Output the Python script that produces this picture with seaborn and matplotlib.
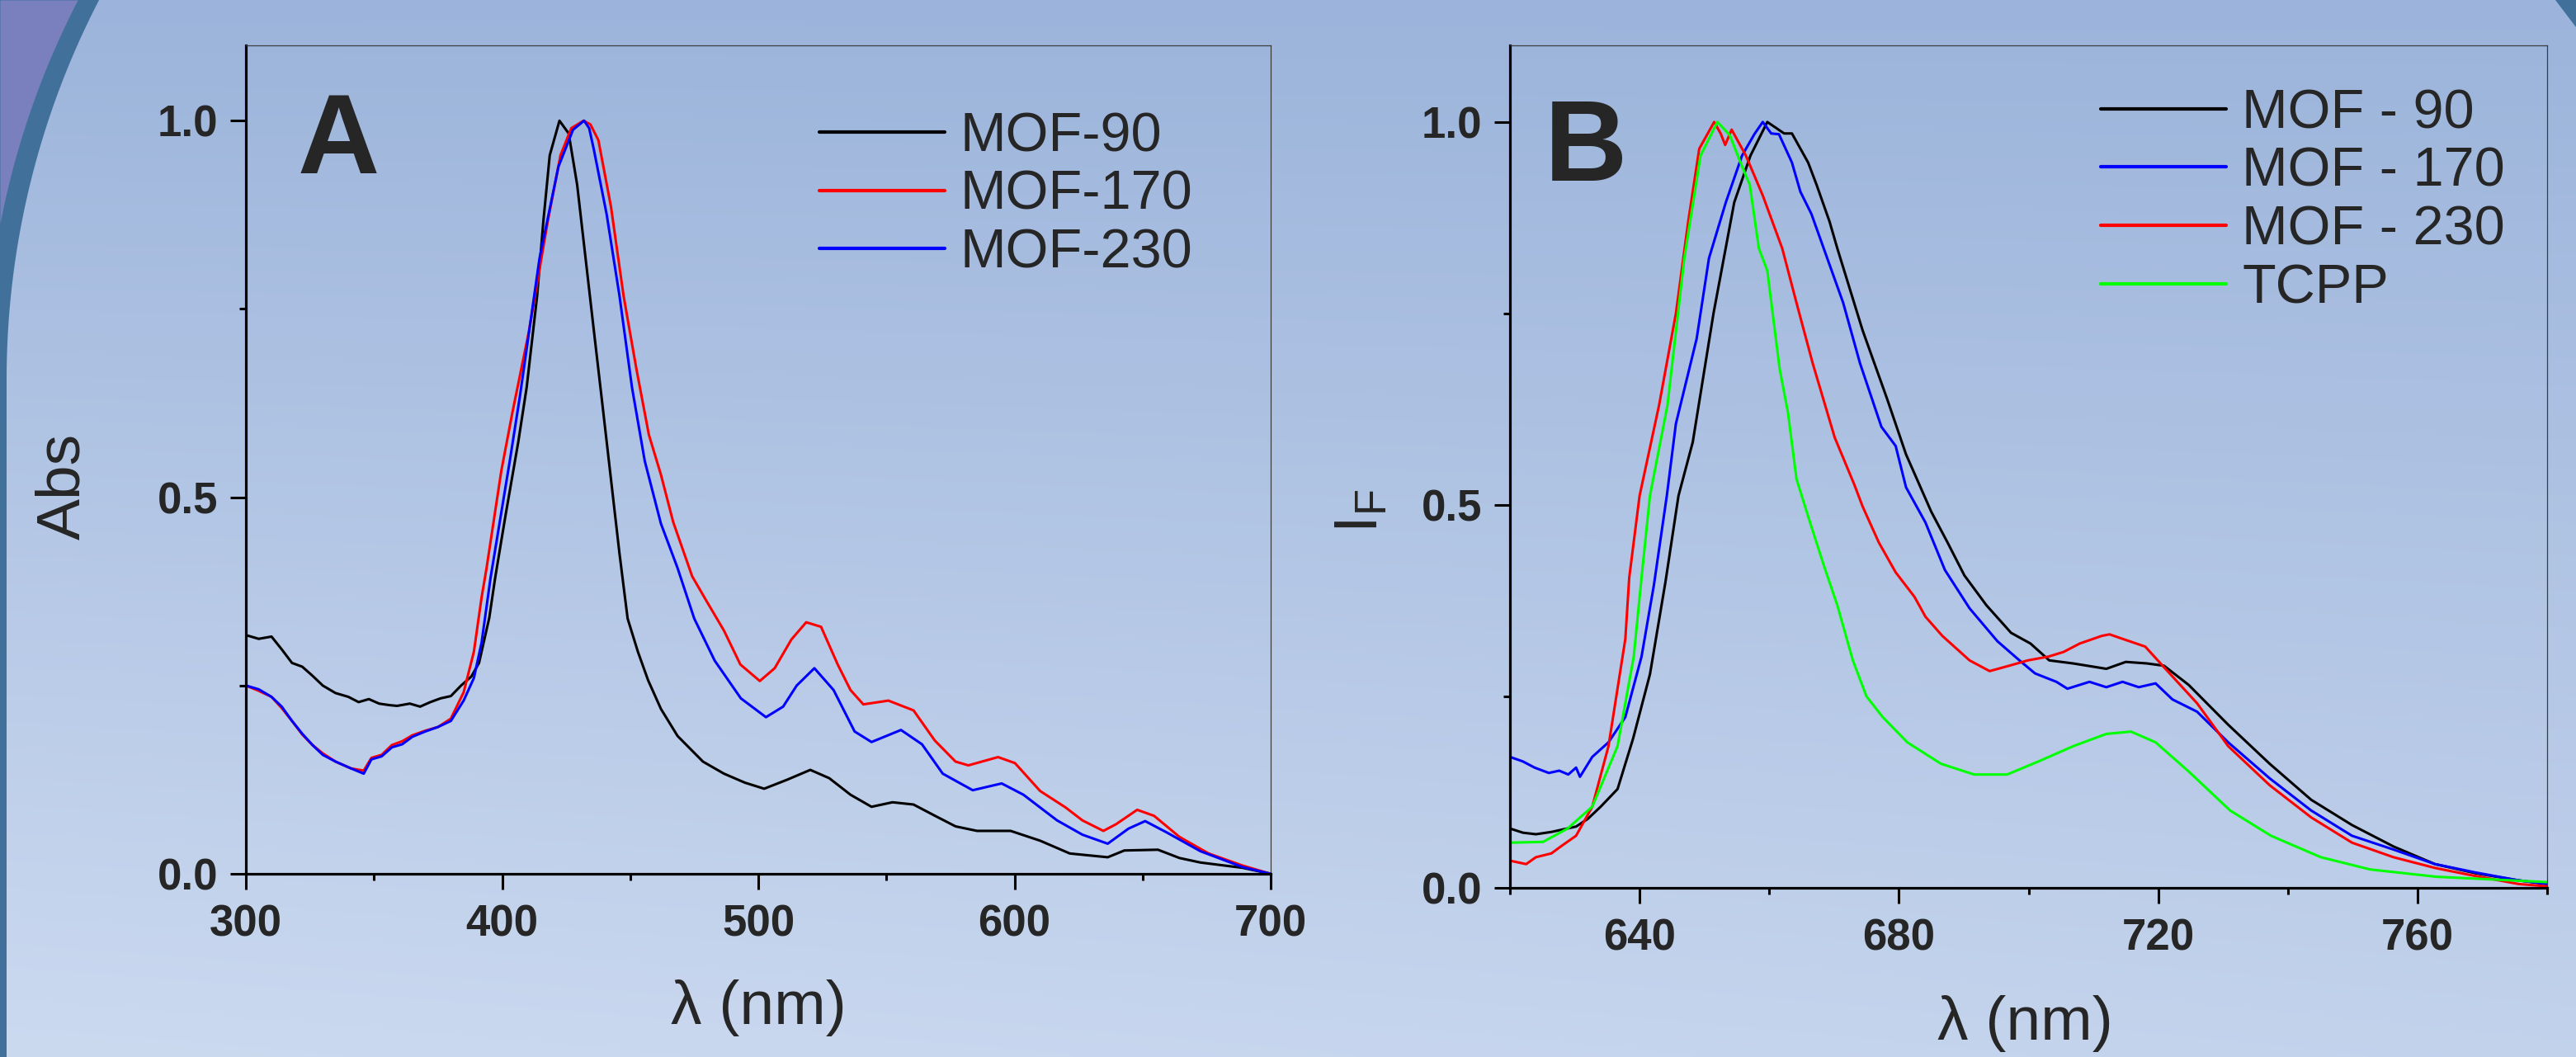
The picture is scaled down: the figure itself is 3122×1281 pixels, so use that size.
import numpy as np
import pandas as pd
import seaborn as sns
import matplotlib.pyplot as plt
from matplotlib.ticker import MultipleLocator

# ---- Panel A: UV-vis absorbance (normalised) ----
a_mof90_x = [300, 305, 310, 314, 318, 322, 326, 330, 335, 340, 344, 348, 352, 356, 359, 364, 368, 372,
             376, 380, 384, 388, 391, 395, 397.3, 401.3, 406.3, 409.6, 413.7, 416.1, 418.6, 422.4, 426,
             429.3, 432.6, 435.9, 439.2, 442.5, 445.8, 449, 453, 457, 462, 468.5, 478.4, 486.6, 494.8,
             502.3, 511.3, 520.3, 527.7, 536, 544.2, 552.4, 560.6, 569, 577, 585.4, 598.5, 610, 621.6,
             636.4, 642.9, 656, 664.4, 672.6, 689, 700]
a_mof90_y = [0.317, 0.312, 0.315, 0.298, 0.28, 0.275, 0.263, 0.25, 0.24, 0.235, 0.228, 0.232, 0.226, 0.224,
             0.223, 0.226, 0.222, 0.228, 0.233, 0.236, 0.25, 0.262, 0.28, 0.34, 0.393, 0.475, 0.573, 0.646,
             0.768, 0.866, 0.954, 1.0, 0.983, 0.915, 0.817, 0.719, 0.622, 0.524, 0.426, 0.339, 0.295,
             0.257, 0.219, 0.183, 0.149, 0.133, 0.121, 0.113, 0.125, 0.138, 0.127, 0.105, 0.089, 0.095,
             0.092, 0.077, 0.063, 0.057, 0.057, 0.044, 0.027, 0.022, 0.031, 0.032, 0.021, 0.015, 0.008, 0.0]

a_mof170_x = [300, 305, 310, 314, 318, 322, 326, 330, 335, 341, 346, 349, 353, 357, 361, 365, 370, 375,
              380, 385, 389, 392, 393.9, 399.7, 404, 410.4, 417.8, 422.8, 427, 431.8, 434.5, 437.6, 442.5,
              447.4, 452.4, 457.3, 462, 466.8, 474.2, 480, 486.6, 493, 500.6, 506.4, 512.9, 518.7, 524.5,
              531, 536, 541, 550.8, 560.6, 568.9, 577, 582, 593.6, 600.2, 610, 620, 626.5, 634.7, 639.7,
              647.9, 654.5, 664.4, 675.8, 689, 700]
a_mof170_y = [0.25, 0.243, 0.235, 0.22, 0.203, 0.185, 0.171, 0.16, 0.149, 0.14, 0.137, 0.154, 0.158, 0.171,
              0.176, 0.184, 0.19, 0.195, 0.206, 0.241, 0.295, 0.367, 0.405, 0.535, 0.612, 0.719, 0.866,
              0.954, 0.99, 1.0, 0.995, 0.974, 0.886, 0.768, 0.671, 0.583, 0.53, 0.467, 0.395, 0.361, 0.323,
              0.278, 0.256, 0.273, 0.311, 0.334, 0.328, 0.278, 0.244, 0.225, 0.23, 0.217, 0.177, 0.149,
              0.144, 0.155, 0.147, 0.11, 0.088, 0.071, 0.057, 0.066, 0.085, 0.077, 0.049, 0.027, 0.011, 0.0]

a_mof230_x = [300, 305, 310, 314, 318, 322, 326, 330, 335, 341, 346, 349, 353, 357, 361, 365, 370, 375,
              380, 385, 389, 392, 395.5, 403, 407, 414.6, 422, 427.7, 432, 434, 435.8, 440.8, 445.8, 450.7,
              455.7, 462, 468.5, 475, 483, 493.2, 503, 509.7, 515, 521.9, 529.4, 537.6, 544.2, 555.7,
              563.9, 572, 583.7, 595, 603.5, 616.6, 626.5, 636.4, 644.5, 651, 659.4, 672.6, 689, 700]
a_mof230_y = [0.25, 0.245, 0.235, 0.222, 0.203, 0.186, 0.171, 0.158, 0.149, 0.14, 0.133, 0.152, 0.156,
              0.168, 0.172, 0.182, 0.189, 0.195, 0.203, 0.23, 0.26, 0.307, 0.393, 0.548, 0.635, 0.817,
              0.939, 0.988, 1.0, 0.99, 0.962, 0.876, 0.768, 0.646, 0.548, 0.465, 0.406, 0.339, 0.283, 0.233,
              0.208, 0.222, 0.25, 0.273, 0.244, 0.189, 0.175, 0.191, 0.172, 0.133, 0.111, 0.12, 0.105,
              0.071, 0.052, 0.04, 0.06, 0.07, 0.055, 0.03, 0.009, 0.0]

# ---- Panel B: fluorescence emission (normalised) ----
b_mof90_x = [620, 622, 624, 626.4, 630.2, 632, 634, 636.6, 639, 641.6, 644, 646, 648.2, 651.4, 654.6,
             657.1, 659.7, 662.3, 663.5, 666, 667.3, 669.3, 670.5, 674.4, 678.2, 681.1, 685, 687.5, 690.1,
             693.5, 697.3, 700.3, 703.2, 706.9, 712, 715, 718.3, 720.9, 724.7, 730.8, 737.2, 743.6,
             749.9, 756.3, 762.7, 769, 775.4, 780]
b_mof90_y = [0.0775, 0.072, 0.07, 0.073, 0.08, 0.09, 0.106, 0.129, 0.195, 0.279, 0.4, 0.512, 0.582, 0.75,
             0.895, 0.956, 1.0, 0.985, 0.985, 0.947, 0.918, 0.87, 0.835, 0.728, 0.638, 0.566, 0.491,
             0.451, 0.408, 0.369, 0.333, 0.319, 0.297, 0.293, 0.286, 0.295, 0.293, 0.29, 0.265, 0.213,
             0.162, 0.115, 0.082, 0.054, 0.031, 0.019, 0.01, 0.005]

b_mof170_x = [620, 622, 623.8, 626, 627.6, 629, 630.2, 630.8, 632.7, 635.2, 637.8, 640.3, 642.2, 644.2,
              645.6, 648.8, 650.7, 653.3, 655.8, 657.7, 659, 660.3, 661.5, 663.5, 664.8, 666.5, 668.4,
              671.4, 674, 677.3, 679.5, 681.1, 684.1, 687.1, 690.9, 695.2, 698.6, 701, 704.3, 706,
              709.4, 712, 714.5, 717, 719.6, 722.2, 726, 730.8, 737.2, 743.6, 749.9, 756.3, 762.7,
              769, 775.4, 780]
b_mof170_y = [0.171, 0.165, 0.157, 0.15, 0.153, 0.148, 0.157, 0.145, 0.171, 0.19, 0.223, 0.302, 0.395,
              0.512, 0.606, 0.717, 0.822, 0.895, 0.956, 0.984, 1.0, 0.985, 0.984, 0.947, 0.909, 0.88,
              0.835, 0.764, 0.685, 0.602, 0.577, 0.523, 0.477, 0.415, 0.365, 0.322, 0.297, 0.28, 0.269,
              0.26, 0.269, 0.262, 0.269, 0.262, 0.267, 0.246, 0.23, 0.19, 0.143, 0.101, 0.068, 0.05,
              0.031, 0.02, 0.01, 0.005]

b_mof230_x = [620, 622.5, 624, 626.4, 628, 630.2, 632.7, 635.2, 637.8, 638.4, 640, 643, 645.6, 647.5,
              649.2, 651.5, 652.5, 653.2, 654.2, 656.4, 659, 662, 664.2, 666.7, 670.1, 673.1, 674.4,
              676.9, 679.5, 682.4, 684.1, 686.7, 690.9, 694, 697, 699.9, 703.1, 705.4, 707.9, 711.3,
              712.5, 714.2, 718, 720.9, 726, 730.8, 737.2, 743.6, 749.9, 756.3, 762.7, 768, 775.6, 780]
b_mof230_y = [0.0355, 0.031, 0.04, 0.045, 0.055, 0.068, 0.106, 0.185, 0.325, 0.405, 0.512, 0.63, 0.75,
              0.87, 0.965, 1.0, 0.985, 0.97, 0.99, 0.956, 0.904, 0.835, 0.764, 0.685, 0.588, 0.527, 0.498,
              0.451, 0.412, 0.38, 0.354, 0.329, 0.297, 0.283, 0.29, 0.297, 0.302, 0.308, 0.319, 0.329,
              0.331, 0.326, 0.315, 0.288, 0.241, 0.185, 0.134, 0.092, 0.059, 0.04, 0.026, 0.017, 0.005,
              0.002]

b_tcpp_x = [620, 625.1, 628.9, 632.7, 636.6, 639.1, 640.3, 641.6, 644.3, 646.9, 649.4, 652, 653.9, 655.8,
            657, 658.4, 659.7, 661.6, 662.9, 664.2, 666.3, 668.5, 670.5, 672.9, 675, 677.5, 681.3, 686.5,
            691.6, 696.7, 701.8, 706.9, 712, 715.8, 719.6, 724.7, 731.1, 737.4, 745.1, 752.7, 762.9, 780]
b_tcpp_y = [0.059, 0.06, 0.0775, 0.106, 0.185, 0.302, 0.405, 0.512, 0.63, 0.822, 0.956, 1.0, 0.983, 0.942,
            0.918, 0.835, 0.806, 0.678, 0.62, 0.534, 0.477, 0.419, 0.369, 0.297, 0.25, 0.223, 0.19, 0.162,
            0.148, 0.148, 0.166, 0.185, 0.201, 0.204, 0.19, 0.152, 0.101, 0.068, 0.04, 0.024, 0.0145,
            0.0075]

labels_a = ["MOF-90", "MOF-170", "MOF-230"]
colors_a = ["#000000", "#ff0000", "#0000ff"]
labels_b = ["MOF - 90", "MOF - 170", "MOF - 230", "TCPP"]
colors_b = ["#000000", "#0000ff", "#ff0000", "#00ff00"]


def frame(x, y, name):
    return pd.DataFrame({"wavelength": x, "value": y, "sample": name})


df_a = pd.concat([frame(a_mof90_x, a_mof90_y, labels_a[0]),
                  frame(a_mof170_x, a_mof170_y, labels_a[1]),
                  frame(a_mof230_x, a_mof230_y, labels_a[2])])
df_b = pd.concat([frame(b_mof90_x, b_mof90_y, labels_b[0]),
                  frame(b_mof170_x, b_mof170_y, labels_b[1]),
                  frame(b_mof230_x, b_mof230_y, labels_b[2]),
                  frame(b_tcpp_x, b_tcpp_y, labels_b[3])])

sns.set_style("ticks")
plt.rcParams["font.family"] = ["Liberation Sans", "DejaVu Sans"]
plt.rcParams["mathtext.fontset"] = "custom"
plt.rcParams["mathtext.rm"] = "Liberation Sans"

W, H = 3122, 1281
fig = plt.figure(figsize=(W / 100, H / 100), dpi=100)

# slide-like background
bg = fig.add_axes([0, 0, 1, 1], zorder=-10)
yy, xx = np.mgrid[0:1:200j, 0:1:200j]
top = np.array([156, 180, 219]) / 255
bottom = np.array([204, 218, 240]) / 255
t = np.clip(0.8 * yy + 0.2 * (1 - xx) * yy, 0, 1)[..., None]
bg.imshow(top + (bottom - top) * t, extent=(0, W, H, 0), aspect="auto", interpolation="bilinear")
ys = np.linspace(0, H, 400)
inner = 8 + 1000 - np.sqrt(1000 ** 2 - np.clip(460 - ys, 0, None) ** 2)
outer = -18 + 1000 - np.sqrt(1000 ** 2 - np.clip(460 - ys, 0, None) ** 2)
bg.fill_betweenx(ys, 0, inner, color="#41709b", lw=0)
bg.fill_betweenx(ys, 0, np.maximum(outer, 0), where=outer > 0, color="#7a80bd", lw=0)
bg.fill([3097, W, W], [0, 0, 33], color="#41709b", lw=0)
bg.set_xlim(0, W)
bg.set_ylim(H, 0)
bg.axis("off")

ax_a = fig.add_axes([298 / W, 1 - 1059 / H, 1242 / W, 1004 / H])
ax_b = fig.add_axes([1830 / W, 1 - 1076 / H, 1257 / W, 1021 / H])

sns.lineplot(data=df_a, x="wavelength", y="value", hue="sample", hue_order=labels_a,
             palette=colors_a, estimator=None, sort=False, lw=2.2, ax=ax_a)
sns.lineplot(data=df_b, x="wavelength", y="value", hue="sample", hue_order=labels_b,
             palette=colors_b, estimator=None, sort=False, lw=2.2, ax=ax_b)

for ax in (ax_a, ax_b):
    ax.set_facecolor("none")
    ax.set_ylim(0, 1.1)
    ax.set_yticks([0, 0.5, 1.0], ["0.0", "0.5", "1.0"], fontweight="bold")
    ax.yaxis.set_minor_locator(MultipleLocator(0.25))
    ax.tick_params(which="major", direction="out", length=13.5, width=2.2, labelsize=38, color="black")
    ax.tick_params(which="minor", direction="out", length=6, width=2.2, color="black")
    ax.tick_params(axis="y", pad=10.8)
    ax.tick_params(axis="x", pad=13)
    for side in ("left", "bottom"):
        ax.spines[side].set_linewidth(2.3)
        ax.spines[side].set_color("black")
    for side in ("top", "right"):
        ax.spines[side].set_linewidth(0.9)
        ax.spines[side].set_color("#3c3c3c")

ax_a.set_xlim(300, 700)
ax_a.set_xticks([300, 400, 500, 600, 700], ["300", "400", "500", "600", "700"], fontweight="bold")
ax_a.xaxis.set_minor_locator(MultipleLocator(50))

ax_b.set_xlim(620, 780)
ax_b.set_xticks([640, 680, 720, 760], ["640", "680", "720", "760"], fontweight="bold")
ax_b.xaxis.set_minor_locator(MultipleLocator(20))

ax_a.set_xlabel("λ (nm)", fontsize=54)
ax_a.set_ylabel("Abs", fontsize=54)
ax_a.xaxis.set_label_coords(0.5, -0.162)
ax_a.yaxis.set_label_coords(-0.178, 0.468)
ax_b.set_xlabel("λ (nm)", fontsize=54)
ax_b.set_ylabel(r"$\mathregular{I_F}$", fontsize=54)
ax_b.xaxis.set_label_coords(0.497, -0.161)
ax_b.yaxis.set_label_coords(-0.143, 0.447)
for lab in (ax_a.xaxis.label, ax_a.yaxis.label, ax_b.xaxis.label, ax_b.yaxis.label):
    lab.set_va("center")

ax_a.text(0.05, 0.846, "A", transform=ax_a.transAxes, fontsize=99, fontweight="bold",
          ha="left", va="baseline")
ax_b.text(0.033, 0.839, "B", transform=ax_b.transAxes, fontsize=100, fontweight="bold",
          ha="left", va="baseline")

legend_kw = dict(frameon=False, title=None, fontsize=48, handlelength=2.28, handletextpad=0.28,
                 labelspacing=0.13, borderpad=0, borderaxespad=0)
sns.move_legend(ax_a, "upper left", bbox_to_anchor=(0.5596, 0.92), **legend_kw)
sns.move_legend(ax_b, "upper left", bbox_to_anchor=(0.570, 0.949), **legend_kw)
for ax in (ax_a, ax_b):
    for line in ax.get_legend().get_lines():
        line.set_linewidth(3)

fig.savefig("out.png", dpi=100)
